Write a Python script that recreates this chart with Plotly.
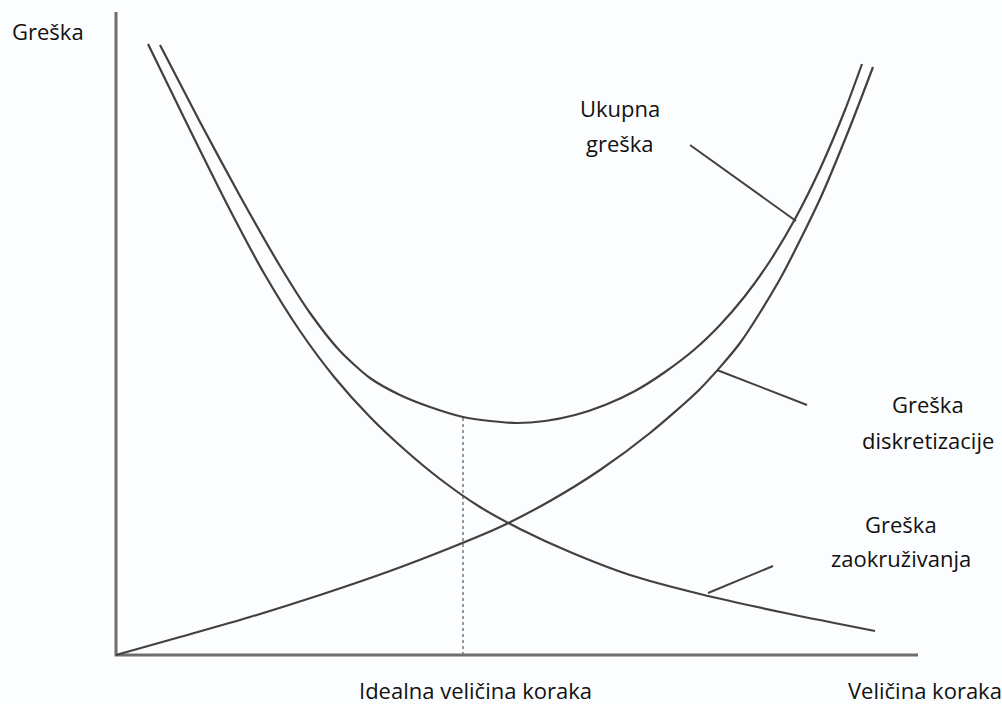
import plotly.graph_objects as go

# Step size (x) and error (y) values (arbitrary units)
round_x = [3.2, 7.4, 11.4, 14.9, 18.4, 21.9, 25.4, 28.9, 32.4, 36.4, 40.4, 45.4, 51.4, 58.4, 67.4, 75.9]
round_y = [61.1, 52.5, 44.5, 38.0, 32.4, 27.7, 23.8, 20.5, 17.6, 14.8, 12.6, 10.3, 8.0, 6.1, 4.1, 2.4]

total_x = [4.4, 8.4, 12.4, 16.4, 19.4, 22.4, 25.4, 28.4, 31.4, 34.7, 37.4, 40.1, 42.9, 45.9,
           48.9, 51.9, 54.9, 57.9, 60.4, 62.9, 65.4, 67.9, 70.4, 72.9, 74.6]
total_y = [61.0, 53.3, 45.9, 38.9, 34.2, 30.4, 27.7, 26.0, 24.8, 23.8, 23.4, 23.2, 23.4, 24.0,
           25.0, 26.4, 28.3, 30.6, 33.0, 35.9, 39.4, 43.6, 48.6, 54.5, 59.1]

disc_x = [0.0, 6.4, 13.4, 20.4, 27.4, 33.4, 38.4, 43.4, 48.4, 53.4, 58.4, 62.4, 66.4, 70.4, 73.4, 75.7]
disc_y = [0.0, 1.8, 3.8, 6.0, 8.4, 10.7, 12.8, 15.4, 18.5, 22.2, 26.6, 31.2, 37.6, 45.6, 52.8, 58.8]

# Axes extents
axis_x_max = 80.2
axis_y_max = 64.3

# Ideal step size marker
ideal_x = 34.7
ideal_y = 23.8

# Leader lines (label -> curve)
lead_total_x = [57.4, 68.0]
lead_total_y = [51.0, 43.4]
lead_disc_x = [60.1, 69.1]
lead_disc_y = [28.5, 25.0]
lead_round_x = [59.2, 65.7]
lead_round_y = [6.2, 8.9]

CURVE = "#414141"
AXIS = "#6e6e6e"

fig = go.Figure()

# axes
fig.add_trace(go.Scatter(x=[0, 0, axis_x_max], y=[axis_y_max, 0, 0], mode="lines",
                         line=dict(color=AXIS, width=3), hoverinfo="skip"))

# dotted ideal line
fig.add_trace(go.Scatter(x=[ideal_x, ideal_x], y=[0, ideal_y], mode="lines",
                         line=dict(color="#777777", width=1.5, dash="dot"), hoverinfo="skip"))

for xs, ys in [(round_x, round_y), (total_x, total_y), (disc_x, disc_y)]:
    fig.add_trace(go.Scatter(x=xs, y=ys, mode="lines",
                             line=dict(color=CURVE, width=2.2, shape="spline", smoothing=0.7),
                             hoverinfo="skip"))

for xs, ys in [(lead_total_x, lead_total_y), (lead_disc_x, lead_disc_y), (lead_round_x, lead_round_y)]:
    fig.add_trace(go.Scatter(x=xs, y=ys, mode="lines",
                             line=dict(color=CURVE, width=2), hoverinfo="skip"))

FONT = dict(family="Open Sans", size=22, color="#111111")

labels = [
    ("Greška", -6.8, 62.4),
    ("Ukupna", 50.4, 54.7),
    ("greška", 50.4, 51.2),
    ("Greška", 81.2, 25.1),
    ("diskretizacije", 81.2, 21.5),
    ("Greška", 78.5, 13.1),
    ("zaokruživanja", 78.5, 9.7),
    ("Idealna veličina koraka", 35.9, -3.5),
    ("Veličina koraka", 80.9, -3.5),
]
for txt, x, y in labels:
    fig.add_annotation(x=x, y=y, text=txt, showarrow=False, font=FONT,
                       xanchor="center", yanchor="middle")

fig.update_layout(
    width=1002, height=704,
    margin=dict(l=0, r=0, t=0, b=0),
    paper_bgcolor="#fcfdfe", plot_bgcolor="#fcfdfe",
    showlegend=False,
    xaxis=dict(range=[-11.6, 88.6], visible=False, fixedrange=True),
    yaxis=dict(range=[-4.9, 65.5], visible=False, fixedrange=True),
)

fig.write_html("out.html", config={"displayModeBar": False},
               post_script="document.body.style.margin='0';document.body.style.overflow='hidden';")
